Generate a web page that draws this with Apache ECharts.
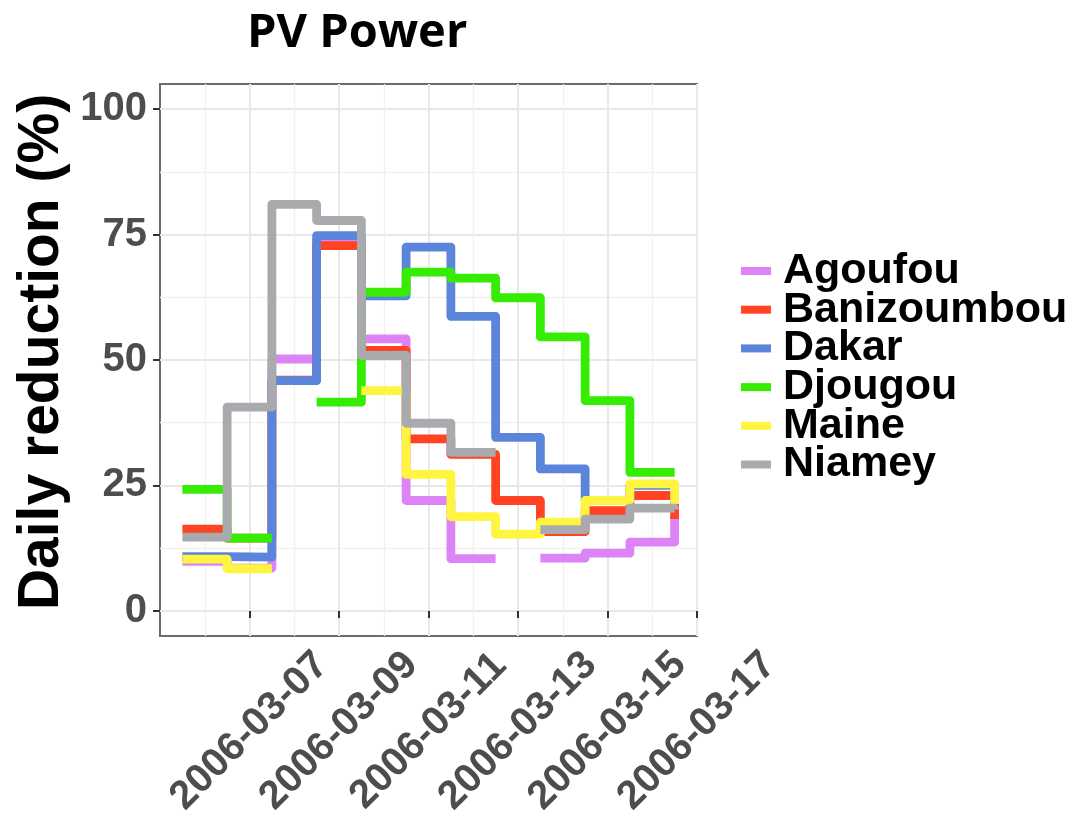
<!DOCTYPE html>
<html>
<head>
<meta charset="utf-8">
<script src="https://cdn.jsdelivr.net/npm/echarts@6/dist/echarts.min.js"></script>
<style>
  html, body { margin: 0; padding: 0; background: #ffffff; }
  #chart { width: 1081px; height: 825px; }
</style>
</head>
<body>
<div id="chart"></div>
<script>
// Step boundaries (UTC). Value i holds from stepTimes[i] to stepTimes[i + 1];
// the last value only closes the staircase with a vertical stroke.
const stepTimes = [
  '2006-03-05T12:00:00Z', '2006-03-06T12:00:00Z', '2006-03-07T12:00:00Z',
  '2006-03-08T12:00:00Z', '2006-03-09T12:00:00Z', '2006-03-10T12:00:00Z',
  '2006-03-11T12:00:00Z', '2006-03-12T12:00:00Z', '2006-03-13T12:00:00Z',
  '2006-03-14T12:00:00Z', '2006-03-15T12:00:00Z', '2006-03-16T12:00:00Z'
];

const stationNames = ['Agoufou', 'Banizoumbou', 'Dakar', 'Djougou', 'Maine', 'Niamey'];

// Daily reduction of PV power (%), null = no data
const agoufou     = [9.9, 8.5, 50.2, 74.0, 54.2, 22.0, 10.4, null, 10.5, 11.5, 13.7, 19.0];
const banizoumbou = [16.3, 14.5, 46.0, 72.8, 51.9, 34.3, 31.2, 22.0, 15.8, 20.0, 23.0, 18.3];
const dakar       = [10.8, 10.7, 45.9, 74.8, 62.8, 72.5, 58.7, 34.6, 28.3, 22.0, 25.0, 21.3];
const djougou     = [24.2, 14.5, null, 41.6, 63.5, 67.5, 66.3, 62.4, 54.6, 41.9, 27.6, 27.6];
const maine       = [10.3, 8.4, null, null, 43.9, 27.2, 18.8, 15.3, 17.7, 22.0, 25.3, 21.3];
const niamey      = [14.7, 40.6, 81.0, 77.8, 50.9, 37.4, 31.6, null, 16.2, 18.3, 20.5, 20.2];

const stationValues = [agoufou, banizoumbou, dakar, djougou, maine, niamey];
const stationColors = ['#dc84f6', '#ff4323', '#5a85da', '#37ec03', '#fff43f', '#a9aaae'];

// Axis extents and tick labels
const xRange = ['2006-03-05', '2006-03-17'];
const dateTicks = ['2006-03-07', '2006-03-09', '2006-03-11', '2006-03-13', '2006-03-15', '2006-03-17'];
const yRange = [-5, 105];
const yTicks = [0, 25, 50, 75, 100];
const yMinorTicks = [12.5, 37.5, 62.5, 87.5];

// x is measured in days since 2006-03-01 00:00 UTC
const ORIGIN = Date.UTC(2006, 2, 1);
const DAY = 86400000;
const toDay = s => (Date.parse(s.length === 10 ? s + 'T00:00:00Z' : s) - ORIGIN) / DAY;
const toLabel = d => new Date(ORIGIN + Math.round(d * DAY)).toISOString().slice(0, 10);

// Horizontal-then-vertical staircase path, breaking where a value is missing
function stairs(values) {
  const xs = stepTimes.map(toDay);
  const pts = [[xs[0], values[0]]];
  for (let i = 1; i < xs.length; i++) {
    pts.push([xs[i], values[i - 1]]);
    pts.push([xs[i], values[i]]);
  }
  return pts;
}

const tickFont = { fontFamily: 'Liberation Sans', fontWeight: 'bold', fontSize: 40, color: '#4d4d4d' };
const majorGrid = { color: '#e8e8e8', width: 2 };
const minorGrid = { color: '#f1f1f1', width: 1.3 };

const chart = echarts.init(document.getElementById('chart'), null, { renderer: 'canvas' });

chart.setOption({
  animation: false,
  backgroundColor: '#ffffff',
  color: stationColors,
  title: {
    text: 'PV Power',
    left: 242,
    top: 5,
    textStyle: { fontFamily: 'Open Sans', fontWeight: 'bold', fontSize: 47, color: '#000000' }
  },
  legend: {
    orient: 'vertical',
    left: 741,
    top: 249.5,
    padding: 0,
    itemGap: -4.3,
    icon: 'rect',
    itemWidth: 30,
    itemHeight: 8,
    data: stationNames,
    textStyle: {
      fontFamily: 'Liberation Sans', fontWeight: 'bold', fontSize: 43, color: '#000000',
      padding: [0, 0, 0, 7]
    }
  },
  grid: {
    left: 160, top: 84, width: 537, height: 552,
    show: true, borderColor: '#6b6b6b', borderWidth: 2, backgroundColor: '#ffffff'
  },
  xAxis: {
    type: 'value',
    min: toDay(xRange[0]),
    max: toDay(xRange[1]),
    interval: 2,
    axisLine: { show: false },
    axisTick: {
      show: true, length: 7, customValues: dateTicks.map(toDay),
      lineStyle: { color: '#333333', width: 2 }
    },
    axisLabel: Object.assign({
      customValues: dateTicks.map(toDay),
      formatter: v => toLabel(v),
      rotate: 45, align: 'center', verticalAlign: 'middle', margin: 95
    }, tickFont),
    splitLine: { show: true, lineStyle: majorGrid },
    minorTick: { show: false, splitNumber: 2 },
    minorSplitLine: { show: true, lineStyle: minorGrid }
  },
  yAxis: [
    {
      type: 'value',
      min: yRange[0], max: yRange[1], interval: 5,
      axisLine: { show: false },
      axisTick: {
        show: true, length: 7, customValues: yTicks,
        lineStyle: { color: '#333333', width: 2 }
      },
      axisLabel: Object.assign({ customValues: yTicks, margin: 13 }, tickFont),
      splitLine: { show: true, lineStyle: majorGrid },
      name: 'Daily reduction (%)',
      nameLocation: 'middle',
      nameGap: 89,
      nameTextStyle: {
        fontFamily: 'Liberation Sans', fontWeight: 'bold', fontSize: 57, color: '#000000',
        padding: [0, 0, 0, 16]
      }
    },
    {
      type: 'value',
      position: 'left',
      min: yRange[0], max: yRange[1], interval: 5,
      axisLine: { show: false },
      axisTick: { show: false, customValues: yMinorTicks },
      axisLabel: { show: false, customValues: yMinorTicks },
      splitLine: { show: true, lineStyle: minorGrid }
    }
  ],
  series: stationNames.map((name, i) => ({
    name: name,
    type: 'line',
    xAxisIndex: 0,
    yAxisIndex: 0,
    data: stairs(stationValues[i]),
    showSymbol: false,
    symbol: 'none',
    connectNulls: false,
    silent: true,
    lineStyle: { width: 8.8, cap: 'butt', join: 'round', color: stationColors[i] },
    itemStyle: { color: stationColors[i] }
  }))
});
</script>
</body>
</html>
